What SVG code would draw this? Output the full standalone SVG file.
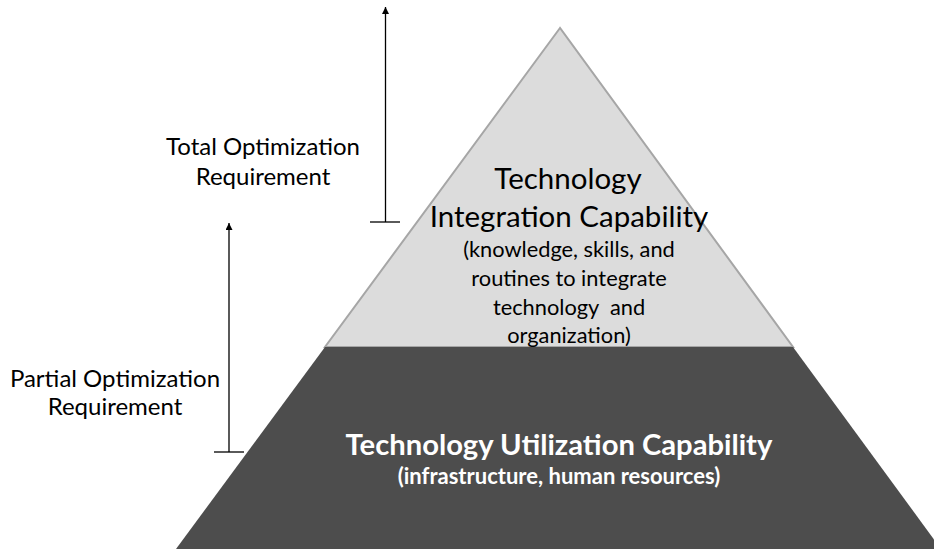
<svg xmlns="http://www.w3.org/2000/svg" width="934" height="549" viewBox="0 0 934 549">
<style>
.lbl{font-family:Lato,"Open Sans","Liberation Sans",sans-serif;fill:#000;text-anchor:middle}
.side{font-size:24px}
.big{font-size:29.5px}
.sub{font-size:21.8px}
.wb{font-family:Lato,"Open Sans","Liberation Sans",sans-serif;fill:#fff;text-anchor:middle;font-weight:bold}
.axis{stroke:#000;stroke-width:1.3;fill:none}
</style>
<defs>
<marker id="ah" viewBox="0 0 10 10" refX="10" refY="5" markerWidth="8" markerHeight="7" markerUnits="userSpaceOnUse" orient="auto">
<path d="M0,0 L10,5 L0,10 z" fill="#000"/>
</marker>
</defs>
<g id="top-layer">
<polygon points="560,28 325,347 793,347" fill="#DCDCDC" stroke="#A6A6A6" stroke-width="2" stroke-linejoin="miter"/>
<text class="lbl big" x="568" y="189">Technology</text>
<text class="lbl big" x="569" y="227">Integration Capability</text>
<text class="lbl sub" x="569" y="257">(knowledge, skills, and</text>
<text class="lbl sub" x="569" y="286">routines to integrate</text>
<text class="lbl sub" x="569" y="315" xml:space="preserve">technology  and</text>
<text class="lbl sub" x="569" y="343">organization)</text>
</g>
<g id="base-layer">
<polygon points="325,347 793,347 941,549 176,549" fill="#4D4D4D"/>
<text class="wb" x="559" y="455" font-size="29.2">Technology Utilization Capability</text>
<text class="wb" x="559" y="484" font-size="22">(infrastructure, human resources)</text>
</g>
<g id="total-label">
<text class="lbl side" x="263" y="155">Total Optimization</text>
<text class="lbl side" x="263" y="185">Requirement</text>
</g>
<g id="partial-label">
<text class="lbl side" x="115" y="387">Partial Optimization</text>
<text class="lbl side" x="115" y="415">Requirement</text>
</g>
<g id="connectors">
<line class="axis" x1="385.5" y1="222" x2="385.5" y2="7" marker-end="url(#ah)"/>
<line class="axis" x1="370" y1="222" x2="400" y2="222"/>
<line class="axis" x1="229" y1="452" x2="229" y2="223" marker-end="url(#ah)"/>
<line class="axis" x1="214" y1="452" x2="244" y2="452"/>
</g>
</svg>
